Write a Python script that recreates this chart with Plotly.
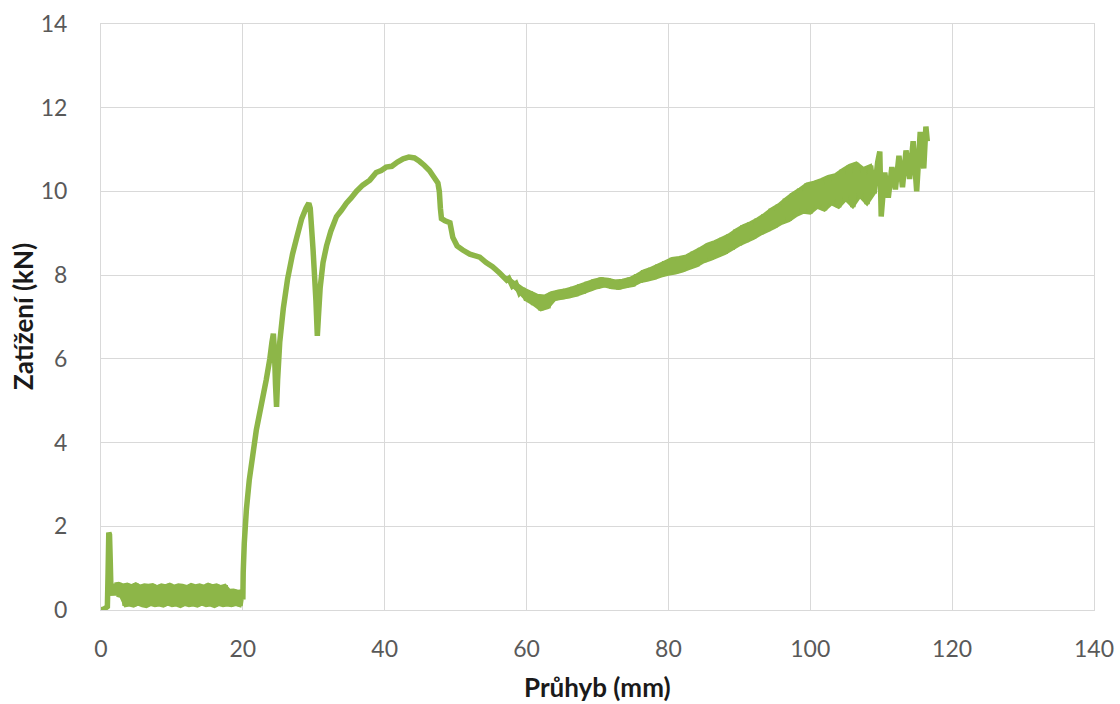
import plotly.graph_objects as go

# Load-deflection record (Průhyb in mm, Zatížení in kN)

# initial contact spike
start_x = [0.0, 0.5, 0.9, 1.0, 1.1, 1.2, 1.3, 1.4, 1.6]
start_y = [0.00, 0.03, 0.08, 0.90, 1.85, 1.80, 1.20, 0.50, 0.35]

# low-load scatter before the specimen engages (alternating high / low readings)
low_x = [1.9, 2.2, 2.5, 2.8, 3.1, 3.4, 3.7, 4.0, 4.3, 4.6, 4.9, 5.2, 5.5, 5.8,
         6.1, 6.4, 6.7, 7.0, 7.3, 7.6, 7.9, 8.2, 8.5, 8.8, 9.1, 9.4, 9.7, 10.0,
         10.3, 10.6, 10.9, 11.2, 11.5, 11.8, 12.1, 12.4, 12.7, 13.0, 13.3, 13.6,
         13.9, 14.2, 14.5, 14.8, 15.1, 15.4, 15.7, 16.0, 16.3, 16.6, 16.9, 17.2,
         17.5, 17.8, 18.1, 18.4, 18.7, 19.0, 19.3, 19.6, 19.9]
low_y = [0.62, 0.35, 0.64, 0.32, 0.60, 0.10, 0.62, 0.12, 0.58, 0.09, 0.63, 0.14,
         0.57, 0.10, 0.60, 0.08, 0.59, 0.13, 0.61, 0.10, 0.56, 0.12, 0.60, 0.09,
         0.58, 0.14, 0.62, 0.10, 0.57, 0.12, 0.60, 0.08, 0.59, 0.13, 0.56, 0.10,
         0.61, 0.12, 0.58, 0.09, 0.60, 0.14, 0.57, 0.10, 0.62, 0.12, 0.58, 0.08,
         0.60, 0.13, 0.56, 0.10, 0.59, 0.12, 0.47, 0.10, 0.48, 0.13, 0.45, 0.10,
         0.46]

# loading, first cracks, peak and softening
main_x = [20.0, 20.05, 20.2, 20.5, 20.9, 21.4, 21.9, 22.6, 23.3, 23.8, 24.1, 24.3,
          24.45, 24.6, 24.75, 24.9, 25.2, 25.7, 26.3, 27.0, 27.6, 28.3, 28.9,
          29.3, 29.5, 29.7, 29.9, 30.1, 30.3, 30.5, 30.65, 30.9, 31.3, 31.8,
          32.4, 33.2, 33.9, 34.6, 35.3, 36.0, 36.9, 37.9, 38.8, 39.5, 40.2,
          41.0, 41.8, 42.6, 43.4, 44.2, 44.9, 45.6, 46.3, 46.9, 47.5, 47.7,
          47.85, 48.0, 48.5, 49.2, 49.6, 50.2, 51.0, 52.0, 53.4, 54.3, 55.2,
          56.2, 57.2]
main_y = [0.25, 0.90, 1.60, 2.40, 3.10, 3.70, 4.30, 4.90, 5.50, 6.00, 6.40, 6.60,
          6.20, 5.40, 4.85, 5.50, 6.40, 7.20, 7.90, 8.50, 8.90, 9.35, 9.60,
          9.72, 9.60, 9.10, 8.60, 8.00, 7.40, 6.55, 7.00, 7.70, 8.30, 8.70,
          9.05, 9.40, 9.55, 9.72, 9.85, 10.00, 10.15, 10.27, 10.45, 10.50, 10.58,
          10.60, 10.70, 10.78, 10.82, 10.80, 10.72, 10.62, 10.50, 10.35, 10.20, 10.00,
          9.60, 9.35, 9.30, 9.25, 8.90, 8.70, 8.60, 8.50, 8.43, 8.30, 8.20,
          8.05, 7.88]

# hardening branch with measurement scatter (high / low readings up to 109 mm)
tail_x = [57.5, 58.0, 58.5, 59.0, 59.5, 60.0, 60.5, 61.0, 61.5, 62.0, 62.5, 63.0,
          63.5, 64.0, 64.5, 65.0, 65.5, 66.0, 66.5, 67.0, 67.5, 68.0, 68.5, 69.0,
          69.5, 70.0, 70.5, 71.0, 71.5, 72.0, 72.5, 73.0, 73.5, 74.0, 74.5, 75.0,
          75.5, 76.0, 76.5, 77.0, 77.5, 78.0, 78.5, 79.0, 79.5, 80.0, 80.5, 81.0,
          81.5, 82.0, 82.5, 83.0, 83.5, 84.0, 84.5, 85.0, 85.5, 86.0, 86.5, 87.0,
          87.5, 88.0, 88.5, 89.0, 89.5, 90.0, 90.5, 91.0, 91.5, 92.0, 92.5, 93.0,
          93.5, 94.0, 94.5, 95.0, 95.5, 96.0, 96.5, 97.0, 97.5, 98.0, 98.5, 99.0,
          99.5, 100.0, 100.5, 101.0, 101.5, 102.0, 102.5, 103.0, 103.5, 104.0,
          104.5, 105.0, 105.5, 106.0, 106.5, 107.0, 107.5, 108.0, 108.5, 109.0,
          109.5, 109.8, 110.0, 110.5, 111.0, 111.5, 112.0, 112.5, 113.0, 113.5,
          114.0, 114.5, 115.0, 115.5, 116.0, 116.3, 116.5]
tail_y = [7.92, 7.74, 7.80, 7.58, 7.68, 7.40, 7.60, 7.30, 7.52, 7.17, 7.50, 7.22,
          7.58, 7.42, 7.62, 7.45, 7.65, 7.48, 7.70, 7.52, 7.76, 7.58, 7.82, 7.64,
          7.88, 7.70, 7.92, 7.74, 7.90, 7.70, 7.86, 7.68, 7.88, 7.72, 7.92, 7.75,
          8.00, 7.84, 8.10, 7.88, 8.16, 7.92, 8.24, 7.98, 8.32, 8.02, 8.40, 8.05,
          8.42, 8.10, 8.46, 8.16, 8.55, 8.22, 8.64, 8.32, 8.74, 8.38, 8.80, 8.45,
          8.88, 8.52, 8.96, 8.62, 9.08, 8.72, 9.18, 8.80, 9.25, 8.88, 9.34, 8.98,
          9.45, 9.06, 9.58, 9.14, 9.68, 9.24, 9.82, 9.30, 9.95, 9.42, 10.06, 9.50,
          10.18, 9.48, 10.22, 9.62, 10.28, 9.55, 10.36, 9.70, 10.40, 9.62,
          10.52, 9.80, 10.62, 9.63, 10.68, 9.88, 10.55, 9.70, 10.62, 9.95,
          10.70, 10.95, 9.40, 10.45, 9.85, 10.58, 10.05, 10.85, 10.10, 10.98,
          10.30, 11.20, 10.00, 11.42, 10.55, 11.55, 11.20]

x_ticks = [0, 20, 40, 60, 80, 100, 120, 140]
y_ticks = [0, 2, 4, 6, 8, 10, 12, 14]

deflection = start_x + low_x + main_x + tail_x
load = start_y + low_y + main_y + tail_y

GREEN = "#8db648"
GRID = "#d9d9d9"
TICK_FONT = dict(family="Lato, 'Open Sans', sans-serif", size=23, color="#595959")
TITLE_FONT = dict(family="Lato, 'Open Sans', sans-serif", size=26, color="#1a1a1a")

fig = go.Figure()


def scatter_band(xs, ys):
    """Shade the band between alternating peak and trough readings."""
    px, py = xs[0::2], ys[0::2]
    tx, ty = xs[1::2], ys[1::2]
    return go.Scatter(
        x=px + tx[::-1], y=py + ty[::-1],
        mode="lines", fill="toself", fillcolor=GREEN,
        line=dict(color=GREEN, width=3, simplify=False),
        showlegend=False, hoverinfo="skip",
    )


fig.add_trace(scatter_band(low_x, low_y))
n_alt = tail_x.index(109.0) + 1
fig.add_trace(scatter_band(tail_x[:n_alt], tail_y[:n_alt]))

fig.add_trace(go.Scatter(
    x=deflection, y=load, mode="lines",
    line=dict(color=GREEN, width=5.5, simplify=False),
    showlegend=False, hoverinfo="skip",
))

axis_common = dict(
    showgrid=True, gridcolor=GRID, gridwidth=1,
    zeroline=True, zerolinecolor=GRID, zerolinewidth=1,
    showline=True, mirror=True, linecolor=GRID, linewidth=1,
    ticks="", tickfont=TICK_FONT, automargin=False,
)
fig.update_xaxes(range=[0, 140], tickvals=x_ticks,
                 ticktext=[str(v) for v in x_ticks],
                 ticklabelstandoff=18, **axis_common)
fig.update_yaxes(range=[0, 14], tickvals=y_ticks,
                 ticktext=[str(v) for v in y_ticks],
                 ticklabelstandoff=28, **axis_common)

fig.add_annotation(
    text="<b>Průhyb (mm)</b>", xref="paper", yref="paper", x=0.5, y=0,
    xanchor="center", yanchor="middle", yshift=-77, showarrow=False,
    font=TITLE_FONT,
)
fig.add_annotation(
    text="<b>Zatížení (kN)</b>", xref="paper", yref="paper", x=0, y=0.5,
    xanchor="center", yanchor="middle", xshift=-78, textangle=-90,
    showarrow=False, font=TITLE_FONT,
)

fig.update_layout(
    width=1120, height=704,
    margin=dict(l=101, r=26, t=24, b=94),
    paper_bgcolor="white", plot_bgcolor="white",
)

fig.write_html("out.html")
